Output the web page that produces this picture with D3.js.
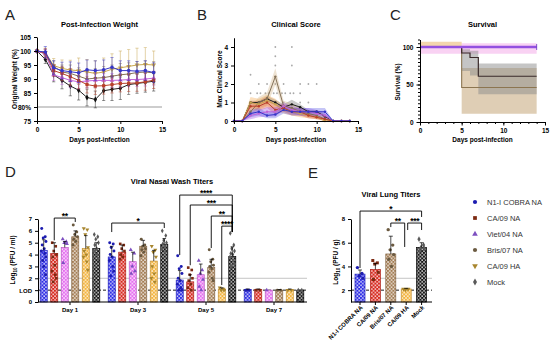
<!DOCTYPE html>
<html>
<head>
<meta charset="utf-8">
<script src="https://cdn.jsdelivr.net/npm/d3@7"></script>
<style>
body { margin: 0; background: #fff; }
text { font-family: "Liberation Sans", Arial, sans-serif; }
</style>
</head>
<body>
<svg id="fig" width="550" height="349"></svg>
<script>
var FONT = '"Liberation Sans", Arial, sans-serif';

var groups = ["N1-I COBRA NA", "CA/09 NA", "Viet/04 NA", "Bris/07 NA", "CA/09 HA", "Mock"];
var days = [0, 1, 2, 3, 4, 5, 6, 7, 8, 9, 10, 11, 12, 13, 14];

// A - weight (% of original)
var wtCobra  = [100, 99.6, 94, 93, 92.6, 92.2, 93.3, 93, 93.3, 94.2, 93, 93, 92.8, 93, 92.3];
var wtCA09NA = [100, 99.3, 93, 92, 90.8, 89.5, 88, 87.5, 87.6, 88, 88.4, 88.5, 88.6, 89, 89.6];
var wtViet   = [100, 99, 91.5, 90.5, 89.5, 89, 89.3, 89.5, 89.5, 89.5, 89.6, 89.8, 89.8, 90, 90.3];
var wtBris   = [100, 99, 94.5, 92.5, 92, 91, 90, 90.3, 90.5, 91, 91.5, 91.8, 92.3, 92.5, 92.2];
var wtCA09HA = [100, 99.5, 94.8, 93.8, 93.2, 93, 92.5, 92, 92.5, 93.5, 94, 94.5, 95, 95.2, 95];
var wtMock   = [100, 97, 91.5, 89.5, 87.5, 86, 83.4, 82.7, 85.8, 86.3, 86.7, 88, 88.4, 88.8, 89.2];
var sdCobra  = [0, 2, 2.5, 3, 3.5, 3.5, 3.5, 3.5, 3.5, 3.5, 3.5, 3.5, 3.5, 3.5, 3.5];
var sdCA09NA = [0, 1.5, 2, 2.5, 3, 3, 3, 3, 3, 3, 3, 3, 3, 3, 3];
var sdViet   = [0, 1.5, 2, 2.5, 2.5, 2.5, 2.5, 2.5, 2.5, 2.5, 2.5, 2.5, 2.5, 2.5, 2.5];
var sdBris   = [0, 1.5, 2, 2.5, 3, 3, 3, 3.5, 4, 4, 4, 4, 4, 4, 4];
var sdCA09HA = [0, 1.5, 2.5, 3, 3.5, 4.5, 4.5, 4.5, 5, 5.5, 6, 6, 6, 6, 5];
var sdMock   = [0, 1.5, 2.5, 3, 3.5, 3.5, 3, 3, 3.5, 4, 4, 3.5, 3.5, 3.5, 3.5];

// B - clinical score
var csCobra  = [0, 0, 0.4, 0.5, 0.3, 0.35, 0.6, 0.5, 0.5, 0.5, 0.5, 0.5, 0, 0, 0];
var csCA09NA = [0, 0, 0.8, 0.8, 1.0, 0.6, 0.7, 0.5, 0.5, 0.3, 0.2, 0.1, 0, 0, 0];
var csViet   = [0, 0, 0.3, 0.4, 0.5, 0.5, 0.8, 0.6, 0.5, 0.5, 0.4, 0.3, 0, 0, 0];
var csBris   = [0, 0, 0.5, 1.0, 1.2, 2.4, 0.8, 0.7, 0.5, 0.4, 0.3, 0.1, 0, 0, 0];
var csCA09HA = [0, 0, 1.0, 0.9, 1.1, 0.9, 0.6, 0.5, 0.4, 0.3, 0.2, 0, 0, 0, 0];
var csMock   = [0, 0, 1.0, 1.0, 1.2, 1.0, 0.75, 0.9, 0.75, 0.5, 0.5, 0.25, 0, 0, 0];
var semCobra  = [0, 0, 0.2, 0.2, 0.15, 0.2, 0.2, 0.2, 0.2, 0.2, 0.2, 0.2, 0, 0, 0];
var semCA09NA = [0, 0, 0.25, 0.25, 0.3, 0.25, 0.2, 0.2, 0.2, 0.15, 0.1, 0.1, 0, 0, 0];
var semViet   = [0, 0, 0.2, 0.2, 0.25, 0.25, 0.2, 0.2, 0.2, 0.2, 0.2, 0.15, 0, 0, 0];
var semBris   = [0, 0, 0.25, 0.3, 0.35, 0.45, 0.3, 0.25, 0.2, 0.2, 0.15, 0.1, 0, 0, 0];
var semCA09HA = [0, 0, 0.3, 0.3, 0.3, 0.3, 0.2, 0.2, 0.2, 0.15, 0.1, 0, 0, 0, 0];
var semMock   = [0, 0, 0.1, 0.1, 0.15, 0.15, 0.15, 0.25, 0.15, 0.1, 0.1, 0.1, 0, 0, 0];
var csPoints = [[2, 2.5], [2, 1.5], [2, 0.5], [3, 2], [2.8, 1.5], [3.2, 1.5], [3, 1], [4, 2], [3.8, 1.5], [4.2, 1.5],
  [5, 4], [5, 3.5], [5, 3], [5, 2], [4.8, 1.5], [5.2, 1.5], [6, 2], [5.8, 1.5], [6.2, 1.5], [6, 1],
  [7, 4], [7, 3], [6.8, 1.5], [7.2, 1.5], [8, 2], [8, 1.5], [8, 1], [9, 2], [9, 1], [10, 2]];

// C - survival (%)
var svDays   = [0, 5, 6, 7, 14];
var svMock   = [100, 92, 86, 61, 61];
var svMockLo = [100, 68, 62, 37, 37];
var svMockHi = [100, 97, 95, 78, 78];
var svBris   = [100, 46, 46, 46, 46];
var svBrisLo = [100, 11, 11, 11, 11];
var svBrisHi = [100, 72, 72, 72, 72];
var svOthers = [100, 100, 100, 100, 100];

// D - nasal wash titers, log10 PFU/ml
var nasalDays = ["Day 1", "Day 3", "Day 5", "Day 7"];
var nwCobra  = [4.35, 3.8, 1.85, 1.05];
var nwCA09NA = [4.1, 4.2, 1.7, 1.05];
var nwViet   = [4.6, 3.4, 2.3, 1.0];
var nwBris   = [5.5, 4.7, 2.9, 1.0];
var nwCA09HA = [4.5, 3.45, 1.1, 1.05];
var nwMock   = [4.5, 4.85, 3.85, 1.0];
var nwSdCobra  = [0.9, 0.9, 0.8, 0.05];
var nwSdCA09NA = [0.9, 0.6, 0.6, 0.05];
var nwSdViet   = [0.5, 0.8, 0.9, 0];
var nwSdBris   = [0.5, 0.5, 0.7, 0.05];
var nwSdCA09HA = [1.1, 0.9, 0.1, 0.05];
var nwSdMock   = [0.5, 0.5, 0.8, 0];
var nwPtsCobra  = [[6.2, 5.5, 5.4, 5.1, 4.8, 4.5, 4.3, 4.1, 3.8, 3.5, 3.0, 2.3], [5.0, 4.9, 4.6, 4.3, 4.0, 3.8, 3.5, 3.0, 2.6, 2.2], [3.9, 3.0, 2.8, 2.4, 2.0, 1.8, 1.5, 1.2, 1.0, 1.0], [1.0, 1.0, 1.0]];
var nwPtsCA09NA = [[5.0, 4.7, 4.3, 4.0, 3.8, 3.1, 2.6, 2.3, 2.0, 1.7], [4.9, 4.8, 4.5, 4.3, 4.0, 3.8, 3.6], [2.9, 2.7, 2.3, 2.0, 1.8, 1.5, 1.2, 1.0], [1.0, 1.0]];
var nwPtsViet   = [[5.3, 5.1, 5.0, 4.9, 3.3], [4.4, 4.1, 3.0, 2.6, 2.4], [3.5, 2.7, 2.4, 1.9, 1.3, 1.0], [1.0]];
var nwPtsBris   = [[6.5, 5.9, 5.7, 5.5, 5.3, 5.1, 4.8], [5.3, 4.8, 4.7, 4.5, 4.4, 4.2, 3.9], [4.4, 3.6, 3.4, 3.1, 3.0, 2.8, 2.5, 2.0, 1.8], [1.0, 1.0]];
var nwPtsCA09HA = [[6.2, 6.1, 5.7, 4.6, 4.3, 4.0, 3.8, 3.4, 2.7], [4.7, 4.4, 4.2, 3.8, 3.0, 2.4, 2.0, 1.7], [1.2, 1.1, 1.0, 1.0], [1.0, 1.0]];
var nwPtsMock   = [[5.7, 5.5, 5.3, 5.0, 4.8, 4.5, 4.3, 4.0, 3.6], [6.0, 5.6, 5.2, 5.0, 4.9, 4.7, 4.5, 4.2], [5.8, 4.8, 4.5, 4.3, 4.1, 4.0, 3.8, 3.5, 3.2, 3.0], [1.0, 1.0]];
// brackets: day, group a, group b, line level, drop a, drop b, label
var nwBrackets = [
  ["Day 1", 1, 3, 7.08, 5.2, 6.75, "**"],
  ["Day 3", 0, 5, 6.66, 5.9, 6.24, "*"],
  ["Day 5", 0, 5, 9.02, 3.96, 5.9, "****"],
  ["Day 5", 1, 5, 8.18, 3.1, 5.9, "***"],
  ["Day 5", 3, 5, 7.25, 4.55, 5.9, "**"],
  ["Day 5", 4, 5, 6.4, 1.43, 5.9, "****"]
];

// E - lung titers, log10 PFU/g
var lungGroups = ["N1-I COBRA NA", "CA/09 NA", "Bris/07 NA", "CA/09 HA", "Mock"];
var lungColorIdx = [0, 1, 3, 4, 5];
var lungMean = [3.35, 3.75, 5.05, 2.1, 5.6];
var lungSd = [0.35, 0.5, 1.5, 0.05, 0.4];
var lungPts = [[3.9, 3.4, 3.2, 3.0], [4.5, 4.3, 4.2, 3.5, 2.9], [7.1, 5.8, 5.4, 5.0, 4.6, 4.0], [2.1, 2.1, 2.05], [6.3, 5.8, 5.6, 5.5, 5.3]];
var lungBrackets = [
  [0, 4, 8.67, 3.87, 8.17, "*", 0, 0],
  [2, 3, 7.66, 7.32, 5.64, "**", 0, -1.5],
  [3, 4, 7.66, 7.07, 7.07, "***", 1.5, 0]
];

var lineColors = ["#3535c8", "#b8402a", "#c064d8", "#857258", "#c8a650", "#222222"];
var bandColors = ["#5a5ae6", "#e05a48", "#9a4ae6", "#cfae80", "#f3a444", "#666666"];
var barColors  = ["#2e2ee6", "#d7281e", "#e56ff0", "#a47e55", "#f3b43e", "#161616"];
var dotColors  = ["#1c1cb0", "#7c2a12", "#7d4fc0", "#6b5a40", "#a8862e", "#5a5a5a"];
var shapes = [d3.symbolCircle, d3.symbolSquare, d3.symbolTriangle, d3.symbolCircle, d3.symbolTriangle, d3.symbolDiamond];
var jitter = [-2, 1.5, -0.5, 2.2, -1.5, 0.5, -2.3, 1, 2, -1, 0, 1.8];

var weightMeans = [wtCobra, wtCA09NA, wtViet, wtBris, wtCA09HA, wtMock];
var weightSds = [sdCobra, sdCA09NA, sdViet, sdBris, sdCA09HA, sdMock];
var csMeans = [csCobra, csCA09NA, csViet, csBris, csCA09HA, csMock];
var csSems = [semCobra, semCA09NA, semViet, semBris, semCA09HA, semMock];
var nwMeans = [nwCobra, nwCA09NA, nwViet, nwBris, nwCA09HA, nwMock];
var nwSds = [nwSdCobra, nwSdCA09NA, nwSdViet, nwSdBris, nwSdCA09HA, nwSdMock];
var nwPts = [nwPtsCobra, nwPtsCA09NA, nwPtsViet, nwPtsBris, nwPtsCA09HA, nwPtsMock];

var svg = d3.select("#fig");
var defs = svg.append("defs");

barColors.forEach(function(c, i) {
  var p = defs.append("pattern").attr("id", "pat" + i)
    .attr("width", 3.6).attr("height", 3.6).attr("patternUnits", "userSpaceOnUse");
  p.append("rect").attr("width", 3.6).attr("height", 3.6).attr("fill", c);
  p.append("rect").attr("x", 0.3).attr("y", 0.3).attr("width", 1.4).attr("height", 1.4).attr("fill", "#fff");
  p.append("rect").attr("x", 2.1).attr("y", 2.1).attr("width", 1.4).attr("height", 1.4).attr("fill", "#fff");
});

function sym(g, x, y, gi, size, color) {
  g.append("path")
    .attr("d", d3.symbol().type(shapes[gi]).size(size)())
    .attr("transform", "translate(" + x + "," + y + ")" + (gi === 4 ? " rotate(180)" : ""))
    .attr("fill", color);
}

function text(x, y, s, size, weight, anchor) {
  return svg.append("text").attr("x", x).attr("y", y).text(s)
    .attr("font-size", size).attr("font-weight", weight || "normal")
    .attr("text-anchor", anchor || "middle").attr("fill", "#000");
}

function styleAxis(g, size) {
  g.attr("font-family", FONT).attr("font-size", size).attr("font-weight", "bold");
  g.selectAll("path, line").attr("stroke", "#000").attr("stroke-width", 1);
  g.selectAll("text").attr("fill", "#000");
}

function vLabel(x, y, s, size) {
  return svg.append("text").attr("transform", "translate(" + x + "," + y + ") rotate(-90)")
    .attr("text-anchor", "middle").attr("font-size", size).attr("font-weight", "bold").text(s);
}

function logLabel(x, y, unit) {
  var t = svg.append("text").attr("transform", "translate(" + x + "," + y + ") rotate(-90)")
    .attr("text-anchor", "middle").attr("font-size", 6.5).attr("font-weight", "bold");
  t.append("tspan").text("Log");
  t.append("tspan").attr("font-size", 4.5).attr("dy", 1.5).text("10");
  t.append("tspan").attr("dy", -1.5).text(" (PFU / " + unit + ")");
}

function stars(g, x, y, s) {
  g.append("text").attr("x", x).attr("y", y + 1).attr("text-anchor", "middle")
    .attr("font-size", 8.5).attr("font-weight", "bold").attr("letter-spacing", -0.3).text(s);
}

// panel letters
[["A", 5, 20], ["B", 197, 20], ["C", 390, 20], ["D", 5, 177], ["E", 308, 178]].forEach(function(l) {
  text(l[1], l[2], l[0], 15, "normal", "start").attr("fill", "#222");
});

// ---------- A: weight ----------
var xA = d3.scaleLinear().domain([0, 15]).range([37, 162]);
var yA = d3.scaleLinear().domain([75, 105]).range([121, 37]);
var gA = svg.append("g");
gA.append("line").attr("x1", xA(0)).attr("x2", xA(15)).attr("y1", yA(80)).attr("y2", yA(80))
  .attr("stroke", "#bdbdbd").attr("stroke-width", 1.3);
[5, 4, 3, 2, 1, 0].forEach(function(gi) {
  var m = weightMeans[gi], s = weightSds[gi], col = lineColors[gi];
  days.forEach(function(d, k) {
    if (!s[k]) return;
    var x = xA(d);
    gA.append("line").attr("x1", x).attr("x2", x).attr("y1", yA(m[k] - s[k])).attr("y2", yA(m[k] + s[k]))
      .attr("stroke", col).attr("stroke-width", 0.7).attr("opacity", 0.7);
    [m[k] - s[k], m[k] + s[k]].forEach(function(v) {
      gA.append("line").attr("x1", x - 1.6).attr("x2", x + 1.6).attr("y1", yA(v)).attr("y2", yA(v))
        .attr("stroke", col).attr("stroke-width", 0.7).attr("opacity", 0.7);
    });
  });
  gA.append("path").datum(m)
    .attr("d", d3.line().x(function(v, k) { return xA(days[k]); }).y(function(v) { return yA(v); }))
    .attr("fill", "none").attr("stroke", col).attr("stroke-width", 1);
  m.forEach(function(v, k) { sym(gA, xA(days[k]), yA(v), gi, 10, gi === 5 ? "#111" : lineColors[gi]); });
});
var axA = svg.append("g").attr("transform", "translate(37,0)")
  .call(d3.axisLeft(yA).tickValues([75, 80, 85, 90, 95, 100, 105])
    .tickFormat(function(d) { return d === 80 ? "80%" : d; }).tickSize(3).tickSizeOuter(0));
styleAxis(axA, 6.5);
var axAx = svg.append("g").attr("transform", "translate(0,121)")
  .call(d3.axisBottom(xA).tickValues([0, 5, 10, 15]).tickSize(3).tickSizeOuter(0));
styleAxis(axAx, 6.5);
text(99.5, 27, "Post-Infection Weight", 7.5, "bold");
text(99.5, 142, "Days post-infection", 6.5, "bold");
vLabel(17, 79, "Original Weight (%)", 6.5);

// ---------- B: clinical score ----------
var xB = d3.scaleLinear().domain([0, 15]).range([234, 358]);
var yB = d3.scaleLinear().domain([0, 4.5]).range([121, 37.75]);
var gB = svg.append("g");
csPoints.forEach(function(p) {
  gB.append("circle").attr("cx", xB(p[0])).attr("cy", yB(p[1])).attr("r", 0.9).attr("fill", "#a9a9a9");
});
[5, 3, 4, 1, 2, 0].forEach(function(gi) {
  var m = csMeans[gi], s = csSems[gi];
  gB.append("path").datum(m)
    .attr("d", d3.area().x(function(v, k) { return xB(days[k]); })
      .y0(function(v, k) { return yB(Math.max(0, v - s[k])); })
      .y1(function(v, k) { return yB(v + s[k]); }))
    .attr("fill", bandColors[gi]).attr("opacity", 0.35);
});
[5, 3, 4, 1, 2, 0].forEach(function(gi) {
  var m = csMeans[gi];
  gB.append("path").datum(m)
    .attr("d", d3.line().x(function(v, k) { return xB(days[k]); }).y(function(v) { return yB(v); }))
    .attr("fill", "none").attr("stroke", lineColors[gi]).attr("stroke-width", 1);
  m.forEach(function(v, k) {
    gB.append("circle").attr("cx", xB(days[k])).attr("cy", yB(v)).attr("r", 1.2).attr("fill", gi === 5 ? "#111" : lineColors[gi]);
  });
});
var axB = svg.append("g").attr("transform", "translate(234,0)")
  .call(d3.axisLeft(yB).tickValues([0, 1, 2, 3, 4]).tickFormat(d3.format("d")).tickSize(3).tickSizeOuter(0));
styleAxis(axB, 6.5);
var axBx = svg.append("g").attr("transform", "translate(0,121)")
  .call(d3.axisBottom(xB).tickValues([0, 5, 10, 15]).tickSize(3).tickSizeOuter(0));
styleAxis(axBx, 6.5);
text(296, 27, "Clinical Score", 7.5, "bold");
text(296, 142, "Days post-infection", 6.5, "bold");
vLabel(222, 79, "Max Clinical Score", 6.5);

// ---------- C: survival ----------
var xC = d3.scaleLinear().domain([0, 15]).range([420, 545]);
var yC = d3.scaleLinear().domain([0, 110]).range([122, 39.5]);
var gC = svg.append("g");
function stepArea(lo, hi) {
  return d3.area().curve(d3.curveStepAfter).x(function(d) { return xC(d); })
    .y0(function(d, k) { return yC(lo[k]); }).y1(function(d, k) { return yC(hi[k]); })(svDays);
}
function stepLine(v) {
  return d3.line().curve(d3.curveStepAfter).x(function(d) { return xC(d); })
    .y(function(d, k) { return yC(v[k]); })(svDays);
}
gC.append("path").attr("d", stepArea([91, 91, 91, 91, 91], [105, 105, 105, 105, 105])).attr("fill", "#f9d2f3");
gC.append("path").attr("d", stepArea([100, 100, 100, 100, 100], [107, 100, 100, 100, 100])).attr("fill", "#f3d6ad");
gC.append("path").attr("d", stepArea(svBrisLo, svBrisHi)).attr("fill", "#d9c6a8").attr("opacity", 0.85);
gC.append("path").attr("d", stepArea(svMockLo, svMockHi)).attr("fill", "#8c8c8c").attr("opacity", 0.5);
gC.append("path").attr("d", stepLine(svBris)).attr("fill", "none").attr("stroke", "#8c7550").attr("stroke-width", 1.1);
gC.append("path").attr("d", stepLine(svMock)).attr("fill", "none").attr("stroke", "#3a2a2a").attr("stroke-width", 1.2);
gC.append("path").attr("d", stepLine(svOthers)).attr("fill", "none").attr("stroke", "#9350e0").attr("stroke-width", 2.6);
gC.append("line").attr("x1", xC(14)).attr("x2", xC(14)).attr("y1", yC(100) - 3).attr("y2", yC(100) + 3)
  .attr("stroke", "#6a30c0").attr("stroke-width", 0.8);
var axCm = svg.append("g").attr("transform", "translate(420,0)")
  .call(d3.axisLeft(yC).tickValues(d3.range(0, 111, 5)).tickFormat("").tickSize(2).tickSizeOuter(0));
styleAxis(axCm, 6.5);
var axC = svg.append("g").attr("transform", "translate(420,0)")
  .call(d3.axisLeft(yC).tickValues([0, 50, 100]).tickSize(3.5).tickSizeOuter(0));
styleAxis(axC, 6.5);
var axCxm = svg.append("g").attr("transform", "translate(0,122)")
  .call(d3.axisBottom(xC).tickValues(days.concat([15])).tickFormat("").tickSize(2).tickSizeOuter(0));
styleAxis(axCxm, 6.5);
var axCx = svg.append("g").attr("transform", "translate(0,122)")
  .call(d3.axisBottom(xC).tickValues([0, 5, 10, 15]).tickSize(3.5).tickSizeOuter(0));
styleAxis(axCx, 6.5);
text(482.5, 27, "Survival", 7.5, "bold");
text(482.5, 142, "Days post-infection", 6.5, "bold");
vLabel(400, 82, "Survival (%)", 6.5);

// ---------- D: nasal wash titers ----------
var xD = d3.scaleBand().domain(nasalDays).range([36, 308]);
var xDi = d3.scaleBand().domain(d3.range(6)).range([0, xD.bandwidth()]).paddingInner(0.33).paddingOuter(0.4);
var yD = d3.scaleLinear().domain([0, 7]).range([302, 219]);
var gD = svg.append("g");
gD.append("line").attr("x1", 38).attr("x2", 307).attr("y1", yD(2)).attr("y2", yD(2)).attr("stroke", "#b5b5b5").attr("stroke-width", 0.8);
gD.append("line").attr("x1", 38).attr("x2", 307).attr("y1", yD(1)).attr("y2", yD(1)).attr("stroke", "#000")
  .attr("stroke-width", 0.9).attr("stroke-dasharray", "3,2");
nasalDays.forEach(function(day, di) {
  for (var gi = 0; gi < 6; gi++) {
    var x0 = xD(day) + xDi(gi), bw = xDi.bandwidth(), cx = x0 + bw / 2;
    var m = nwMeans[gi][di], sd = nwSds[gi][di];
    gD.append("rect").attr("x", x0).attr("y", yD(m)).attr("width", bw).attr("height", yD(0) - yD(m))
      .attr("fill", "url(#pat" + gi + ")").attr("stroke", gi === 5 ? "#000" : d3.color(barColors[gi]).darker(0.6)).attr("stroke-width", 0.7);
    nwPts[gi][di].forEach(function(v, k) {
      sym(gD, cx + jitter[k % jitter.length], yD(v), gi, 7, dotColors[gi]);
    });
    if (sd > 0) {
      gD.append("line").attr("x1", cx).attr("x2", cx).attr("y1", yD(m)).attr("y2", yD(m + sd)).attr("stroke", "#000").attr("stroke-width", 0.7);
      gD.append("line").attr("x1", cx - 1.8).attr("x2", cx + 1.8).attr("y1", yD(m + sd)).attr("y2", yD(m + sd)).attr("stroke", "#000").attr("stroke-width", 0.7);
    }
  }
});
nwBrackets.forEach(function(b) {
  var xa = xD(b[0]) + xDi(b[1]) + xDi.bandwidth() / 2;
  var xb = xD(b[0]) + xDi(b[2]) + xDi.bandwidth() / 2;
  gD.append("path").attr("d", "M" + xa + "," + yD(b[4]) + "V" + yD(b[3]) + "H" + xb + "V" + yD(b[5]))
    .attr("fill", "none").attr("stroke", "#000").attr("stroke-width", 0.9);
  stars(gD, (xa + xb) / 2, yD(b[3]), b[6]);
});
var axD = svg.append("g").attr("transform", "translate(38,0)")
  .call(d3.axisLeft(yD).tickValues([0, 1, 2, 3, 4, 5, 6, 7])
    .tickFormat(function(d) { return d === 1 ? "LOD" : d; }).tickSize(3).tickSizeOuter(0));
styleAxis(axD, 6);
svg.append("line").attr("x1", 38).attr("x2", 307).attr("y1", 302).attr("y2", 302).attr("stroke", "#000").attr("stroke-width", 1.2);
var axDx = svg.append("g").attr("transform", "translate(0,302)")
  .call(d3.axisBottom(xD).tickSize(3).tickSizeOuter(0));
axDx.select(".domain").remove();
styleAxis(axDx, 6);
text(172, 184, "Viral Nasal Wash Titers", 7.5, "bold");
logLabel(15, 260, "ml");

// ---------- E: lung titers ----------
var xE = d3.scaleBand().domain(lungGroups).range([352.3, 429.3]).paddingInner(0.35).paddingOuter(0.175);
var yE = d3.scaleLinear().domain([1, 8]).range([302, 219]);
var gE = svg.append("g");
gE.append("line").attr("x1", 351).attr("x2", 432).attr("y1", yE(3)).attr("y2", yE(3)).attr("stroke", "#b5b5b5").attr("stroke-width", 0.8);
gE.append("line").attr("x1", 351).attr("x2", 432).attr("y1", yE(2)).attr("y2", yE(2)).attr("stroke", "#000")
  .attr("stroke-width", 0.9).attr("stroke-dasharray", "3,2");
lungGroups.forEach(function(gname, i) {
  var ci = lungColorIdx[i], x0 = xE(gname), bw = xE.bandwidth(), cx = x0 + bw / 2;
  gE.append("rect").attr("x", x0).attr("y", yE(lungMean[i])).attr("width", bw).attr("height", yE(1) - yE(lungMean[i]))
    .attr("fill", "url(#pat" + ci + ")").attr("stroke", ci === 5 ? "#000" : d3.color(barColors[ci]).darker(0.6)).attr("stroke-width", 0.7);
  lungPts[i].forEach(function(v, k) { sym(gE, cx + jitter[k] * 1.3, yE(v), ci, 9, dotColors[ci]); });
  var top = lungMean[i] + lungSd[i];
  gE.append("line").attr("x1", cx).attr("x2", cx).attr("y1", yE(lungMean[i])).attr("y2", yE(top)).attr("stroke", "#000").attr("stroke-width", 0.7);
  gE.append("line").attr("x1", cx - 2).attr("x2", cx + 2).attr("y1", yE(top)).attr("y2", yE(top)).attr("stroke", "#000").attr("stroke-width", 0.7);
});
lungBrackets.forEach(function(b) {
  var xa = xE(lungGroups[b[0]]) + xE.bandwidth() / 2 + b[6];
  var xb = xE(lungGroups[b[1]]) + xE.bandwidth() / 2 + b[7];
  gE.append("path").attr("d", "M" + xa + "," + yE(b[3]) + "V" + yE(b[2]) + "H" + xb + "V" + yE(b[4]))
    .attr("fill", "none").attr("stroke", "#000").attr("stroke-width", 0.9);
  stars(gE, (xa + xb) / 2, yE(b[2]), b[5]);
});
var axE = svg.append("g").attr("transform", "translate(351,0)")
  .call(d3.axisLeft(yE).tickValues([2, 4, 6, 8]).tickFormat(d3.format("d")).tickSize(3).tickSizeOuter(0));
styleAxis(axE, 6);
svg.append("line").attr("x1", 351).attr("x2", 432).attr("y1", 302).attr("y2", 302).attr("stroke", "#000").attr("stroke-width", 1.2);
var axEx = svg.append("g").attr("transform", "translate(0,302)")
  .call(d3.axisBottom(xE).tickSize(3).tickSizeOuter(0));
axEx.select(".domain").remove();
styleAxis(axEx, 6);
axEx.selectAll("text").attr("text-anchor", "end").attr("dy", 0).attr("y", 0)
  .attr("transform", "translate(3,6) rotate(-45)");
text(391, 197, "Viral Lung Titers", 7.5, "bold");
logLabel(338, 262, "g");

// ---------- legend ----------
groups.forEach(function(gname, i) {
  var y = 202 + i * 16;
  sym(svg, 475, y, i, 14, dotColors[i]);
  text(487, y + 2.6, gname, 7.5, "normal", "start").attr("fill", "#333");
});
</script>
</body>
</html>
